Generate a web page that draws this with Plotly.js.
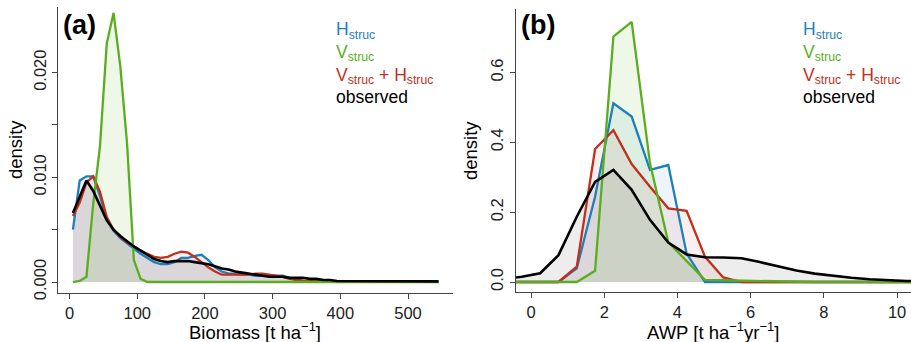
<!DOCTYPE html>
<html><head><meta charset="utf-8">
<script src="https://cdn.plot.ly/plotly-3.0.1.min.js"></script>
<style>html,body{margin:0;padding:0;background:#fff;}#chart{width:911px;height:342px;}</style>
</head><body><div id="chart"></div>
<script>
// ---------- Panel (a): Biomass ----------
const biomassX = [5,15,25,35,45,55,65,75,85,95,105,115,125,135,145,155,165,175,185,195,205,215,225,235,245,255,265,275,285,295,305,315,325,335,345,355,365,375,385,395,405,415,425,435,445,455,465,475,485,495,505,515,525,535,545];
const biomassH = [0.0050,0.0097,0.0101,0.0101,0.0082,0.0060,0.0049,0.0042,0.0037,0.0032,0.0027,0.0023,0.0019,0.0017,0.0017,0.0019,0.0023,0.0023,0.0025,0.0026,0.0021,0.0014,0.0010,0.0008,0.0008,0.0007,0.0007,0.0006,0.0006,0.0006,0.0006,0.0006,0.0004,0.0002,0.0001,0.00005,0.00003,0.00003,0.00003,0.00003,0.00003,0.00003,0.00003,0.00003,0.00003,0.00003,0.00003,0.00003,0.00003,0.00003,0.00003,0.00003,0.00003,0.00003,0.00003];
const biomassV = [0,0.0001,0.0005,0.0075,0.0130,0.0228,0.0257,0.0206,0.0132,0.0021,0.0003,0,0,0,0,0,0,0,0,0,0,0,0,0,0,0,0,0,0,0,0,0,0,0,0,0,0,0,0,0,0,0,0,0,0,0,0,0,0,0,0,0,0,0,0];
const biomassVH = [0.0063,0.0076,0.0095,0.0101,0.0086,0.0062,0.0050,0.0043,0.0038,0.0034,0.0030,0.0027,0.0024,0.0023,0.0024,0.0027,0.0029,0.0028,0.0024,0.0019,0.0014,0.0010,0.0007,0.0007,0.0007,0.0007,0.0007,0.0008,0.0008,0.0007,0.0006,0.0005,0.0003,0.0002,0.0001,0.0001,0.0001,0.00005,0.00002,0.00002,0.00002,0.00002,0.00002,0.00002,0.00002,0.00002,0.00002,0.00002,0.00002,0.00002,0.00002,0.00002,0.00002,0.00002,0.00002];
const biomassObs = [0.0066,0.0082,0.0097,0.0087,0.0073,0.0059,0.0050,0.0044,0.0039,0.0034,0.0030,0.0026,0.0022,0.0020,0.0019,0.0020,0.0020,0.0020,0.0019,0.0018,0.0017,0.0015,0.0013,0.0012,0.0010,0.0009,0.0008,0.0007,0.0006,0.0005,0.0005,0.0005,0.0004,0.0004,0.0004,0.0003,0.0003,0.0002,0.0002,0.0001,0.0001,0.00006,0.00006,0.00006,0.00006,0.00006,0.00006,0.00006,0.00006,0.00006,0.00006,0.00006,0.00006,0.00006,0.00006];

// ---------- Panel (b): AWP ----------
const awpX = [-0.75,-0.25,0.25,0.75,1.25,1.75,2.25,2.75,3.25,3.75,4.25,4.75,5.25,5.75,6.25,6.75,7.25,7.75,8.25,8.75,9.25,9.75,10.25,10.75];
const awpH = [0,0,0,0,0.039,0.244,0.512,0.474,0.321,0.335,0.082,0,0,0,0,0,0,0,0,0,0,0,0,0];
const awpV = [0,0,0,0,0,0.032,0.703,0.745,0.34,0.114,0.06,0.006,0.005,0.004,0.002,0,0,0,0,0,0,0,0,0];
const awpVH = [0,0,0,0,0.044,0.381,0.435,0.338,0.273,0.211,0.204,0.073,0.013,0,0,0,0,0,0,0,0,0,0,0];
const awpObs = [0.008,0.015,0.025,0.077,0.187,0.287,0.321,0.264,0.178,0.113,0.079,0.071,0.070,0.068,0.057,0.045,0.033,0.024,0.017,0.012,0.008,0.005,0.003,0.002];

// tick labels
const tickA_x = [0,100,200,300,400,500];
const tickA_y = [0,0.005,0.010,0.015,0.020];
const tickA_yText = ['0.000','','0.010','','0.020'];
const tickB_x = [0,2,4,6,8,10];
const tickB_y = [0,0.2,0.4,0.6];
const tickB_yText = ['0.0','0.2','0.4','0.6'];

const seriesNames = ['H<sub>struc</sub>','V<sub>struc</sub>','V<sub>struc</sub> + H<sub>struc</sub>','observed'];
const lineColors = ['#1f7fbb','#5aae1e','#c2301b','#000000'];
const fillColors = ['rgba(31,127,187,0.08)','rgba(90,174,30,0.10)','rgba(194,48,27,0.07)','rgba(0,0,0,0.07)'];

const W = 911, H = 342;
const traces = [];
function addPanel(x, ys, xa, ya){
  [3,0,2,1].forEach(i=>{
    traces.push({x:x, y:ys[i], xaxis:xa, yaxis:ya, type:'scatter', mode:'lines',
      fill:'tozeroy', fillcolor:fillColors[i], line:{width:0, color:'rgba(0,0,0,0)'},
      hoverinfo:'skip', showlegend:false});
  });
  [0,2,1,3].forEach(i=>{
    traces.push({x:x, y:ys[i], xaxis:xa, yaxis:ya, type:'scatter', mode:'lines',
      line:{width:i===3?2.6:2.3, color:lineColors[i]}, name:seriesNames[i], showlegend:false});
  });
}
addPanel(biomassX, [biomassH,biomassV,biomassVH,biomassObs], 'x', 'y');
addPanel(awpX, [awpH,awpV,awpVH,awpObs], 'x2', 'y2');

const font = 'Arial, "Liberation Sans", sans-serif';
const axCommon = {showline:true, linecolor:'#444', linewidth:1, ticks:'outside', ticklen:5, tickcolor:'#444',
  tickwidth:1, showgrid:false, zeroline:false, tickfont:{family:font, size:16.5, color:'#222'}, automargin:false};

const px = v => v / W, py = v => 1 - v / H;

const legendText = seriesNames.map((n,i)=>'<span style="color:'+lineColors[i]+'">'+n+'</span>').join('<br>');

const layout = {
  width:W, height:H, margin:{l:0,r:0,t:0,b:0}, paper_bgcolor:'#fff', plot_bgcolor:'#fff', showlegend:false,
  xaxis: Object.assign({}, axCommon, {domain:[px(58.3), px(452.7)], range:[-16.6, 566], tickvals:tickA_x, anchor:'y'}),
  yaxis: Object.assign({}, axCommon, {domain:[py(292.7), py(7)], range:[-0.00102, 0.02627], tickvals:tickA_y, ticktext:tickA_yText, tickangle:-90, anchor:'x'}),
  xaxis2: Object.assign({}, axCommon, {domain:[px(516), 1], range:[-0.41, 10.38], tickvals:tickB_x, anchor:'y2'}),
  yaxis2: Object.assign({}, axCommon, {domain:[py(292.3), py(9)], range:[-0.0295, 0.782], tickvals:tickB_y, ticktext:tickB_yText, tickangle:-90, anchor:'x2'}),
  annotations: [
    {text:'<b>(a)</b>', xref:'paper', yref:'paper', x:px(79), y:py(25), xanchor:'center', yanchor:'middle', showarrow:false, font:{family:font, size:27, color:'#000'}},
    {text:'<b>(b)</b>', xref:'paper', yref:'paper', x:px(538), y:py(25), xanchor:'center', yanchor:'middle', showarrow:false, font:{family:font, size:27, color:'#000'}},
    {text:legendText, xref:'paper', yref:'paper', x:px(334), y:py(17), xanchor:'left', yanchor:'top', align:'left', showarrow:false, font:{family:font, size:17.5, color:'#000'}},
    {text:legendText, xref:'paper', yref:'paper', x:px(801), y:py(17), xanchor:'left', yanchor:'top', align:'left', showarrow:false, font:{family:font, size:17.5, color:'#000'}},
    {text:'density', xref:'paper', yref:'paper', x:px(15), y:py(150), xanchor:'center', yanchor:'middle', textangle:-90, showarrow:false, font:{family:font, size:18.5, color:'#000'}},
    {text:'density', xref:'paper', yref:'paper', x:px(470), y:py(150), xanchor:'center', yanchor:'middle', textangle:-90, showarrow:false, font:{family:font, size:18.5, color:'#000'}},
    {text:'Biomass [t ha<sup>\u22121</sup>]', xref:'paper', yref:'paper', x:px(255), y:py(331), xanchor:'center', yanchor:'middle', showarrow:false, font:{family:font, size:18.5, color:'#000'}},
    {text:'AWP [t ha<sup>\u22121</sup>yr<sup>\u22121</sup>]', xref:'paper', yref:'paper', x:px(713), y:py(331), xanchor:'center', yanchor:'middle', showarrow:false, font:{family:font, size:18.5, color:'#000'}}
  ]
};

Plotly.newPlot('chart', traces, layout, {staticPlot:true, displayModeBar:false});
</script>
</body></html>
